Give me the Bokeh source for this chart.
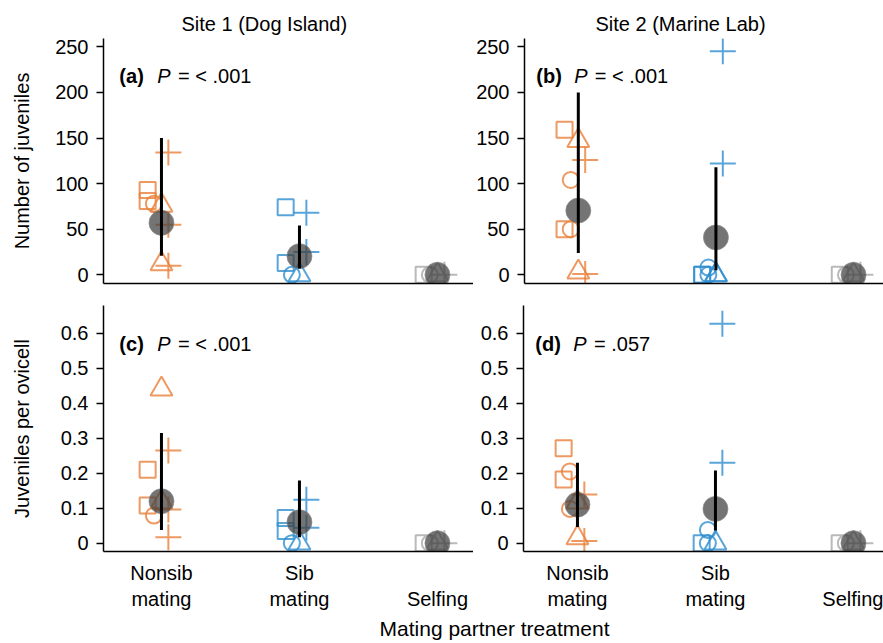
from bokeh.plotting import figure
from bokeh.layouts import column, row
from bokeh.models import FixedTicker, Label, Range1d, NumeralTickFormatter
from bokeh.embed import file_html
from bokeh.resources import INLINE

FONT = "Liberation Sans"

# ---------------- data ----------------
groups = ["Nonsib", "Sib", "Selfing"]
x_tick_labels = ["Nonsib\nmating", "Sib\nmating", "\nSelfing"]
shapes = ["square", "circle", "triangle", "cross"]
site_titles = ["Site 1 (Dog Island)", "Site 2 (Marine Lab)"]
y_labels = ["Number of juveniles", "Juveniles per ovicell"]
x_label = "Mating partner treatment"
panel_tags = ["(a)", "(b)", "(c)", "(d)"]
p_values = ["= < .001", "= < .001", "= < .001", "= .057"]
juv_ticks = [0, 50, 100, 150, 200, 250]
ovi_ticks = [0, 0.1, 0.2, 0.3, 0.4, 0.5, 0.6]

# (a) Site 1, number of juveniles
a_nonsib = {"square": [93, 81], "circle": [78], "triangle": [76, 12], "cross": [134, 55, 10]}
a_sib = {"square": [74, 13], "circle": [0], "triangle": [0], "cross": [68, 25]}
a_self = {"square": [0], "circle": [0], "triangle": [0], "cross": [0]}
a_mean = [57, 20.5, 0]
a_lo = [21, 7]
a_hi = [150, 54]

# (b) Site 2, number of juveniles
b_nonsib = {"square": [159, 50], "circle": [104, 50], "triangle": [147, 3], "cross": [126, 1]}
b_sib = {"square": [0, 0], "circle": [8, 0], "triangle": [0, 0], "cross": [245, 122]}
b_self = {"square": [0], "circle": [0], "triangle": [0], "cross": [0]}
b_mean = [70.5, 41, 0]
b_lo = [24, 5]
b_hi = [200, 118]

# (c) Site 1, juveniles per ovicell
c_nonsib = {"square": [0.21, 0.108], "circle": [0.079], "triangle": [0.44, 0.117], "cross": [0.265, 0.096, 0.017]}
c_sib = {"square": [0.072, 0.035], "circle": [0], "triangle": [0], "cross": [0.124, 0.044]}
c_self = {"square": [0], "circle": [0], "triangle": [0], "cross": [0]}
c_mean = [0.12, 0.06, 0]
c_lo = [0.038, 0.017]
c_hi = [0.315, 0.179]

# (d) Site 2, juveniles per ovicell
d_nonsib = {"square": [0.271, 0.182], "circle": [0.205, 0.098], "triangle": [0.117, 0.015], "cross": [0.139, 0.006]}
d_sib = {"square": [0], "circle": [0.038, 0], "triangle": [0], "cross": [0.627, 0.23]}
d_self = {"square": [0], "circle": [0], "triangle": [0], "cross": [0]}
d_mean = [0.11, 0.098, 0]
d_lo = [0.046, 0.036]
d_hi = [0.23, 0.208]

# ---------------- style ----------------
COLORS = {"Nonsib": "#E8803A", "Sib": "#2F8ECF", "Selfing": "#A8A8A8"}
OFFSETS = {"square": -0.10, "circle": -0.055, "triangle": 0.0, "cross": 0.05}
SIZES = {"square": 16, "circle": 16, "triangle": 22, "cross": 26}


def make_panel(data, means, lo, hi, xr, yr, ticks, width, height, border_left,
               border_top, border_bottom, idx, ylabel=None, ylabel_standoff=19,
               title=None, title_offset=0, show_x_labels=False, tag_y=0.0,
               frac_fmt=False):
    p = figure(width=width, height=height, x_range=Range1d(*xr), y_range=Range1d(*yr),
               output_backend="svg", toolbar_location=None,
               min_border_left=border_left, min_border_right=0,
               min_border_top=border_top, min_border_bottom=border_bottom)
    p.outline_line_color = None
    p.grid.visible = False
    p.background_fill_color = None
    p.border_fill_color = None

    for gi, (gname, gdata) in enumerate(zip(groups, data)):
        for shape in shapes:
            vals = gdata.get(shape, [])
            xs = [gi + 1 + OFFSETS[shape]] * len(vals)
            p.scatter(xs, vals, marker=shape, size=SIZES[shape], fill_color=None,
                      line_color=COLORS[gname], line_width=2, line_alpha=0.8)
    p.scatter([1, 2, 3], means, marker="circle", size=25, fill_color="#3F3F3F",
              fill_alpha=0.72, line_color="#8C8C8C", line_alpha=0.7, line_width=1)
    p.segment(x0=[1, 2], y0=lo, x1=[1, 2], y1=hi, line_width=3, line_color="black")

    # y axis
    ya = p.yaxis[0]
    ya.ticker = FixedTicker(ticks=ticks)
    if frac_fmt:
        ya.formatter = NumeralTickFormatter(format="0.[0]")
    ya.minor_tick_line_color = None
    ya.major_tick_out = 7
    ya.major_tick_in = 0
    ya.major_tick_line_width = 1.5
    ya.major_tick_line_color = "black"
    ya.axis_line_width = 1.5
    ya.axis_line_color = "black"
    ya.major_label_standoff = 8
    ya.major_label_text_font = FONT
    ya.major_label_text_font_size = "20px"
    ya.major_label_text_color = "black"
    if ylabel:
        ya.axis_label = ylabel
        ya.axis_label_text_font = FONT
        ya.axis_label_text_font_style = "normal"
        ya.axis_label_text_font_size = "20px"
        ya.axis_label_text_color = "black"
        ya.axis_label_standoff = ylabel_standoff

    # x axis
    xa = p.xaxis[0]
    xa.minor_tick_line_color = None
    xa.major_tick_line_color = None
    xa.major_tick_out = 0
    xa.major_tick_in = 0
    xa.axis_line_width = 1.5
    xa.axis_line_color = "black"
    if show_x_labels:
        xa.ticker = FixedTicker(ticks=[1, 2, 3])
        xa.major_label_overrides = {i + 1: lab for i, lab in enumerate(x_tick_labels)}
        xa.major_label_text_font = FONT
        xa.major_label_text_font_size = "20px"
        xa.major_label_text_color = "black"
        xa.major_label_standoff = 10
    else:
        xa.ticker = FixedTicker(ticks=[])
        xa.major_label_standoff = 0

    if title:
        p.title.text = title
        p.title.align = "left"
        p.title.offset = title_offset
        p.title.text_font = FONT
        p.title.text_font_style = "normal"
        p.title.text_font_size = "20px"
        p.title.text_color = "black"
        p.title.standoff = 8

    # panel tag and P value
    p.add_layout(Label(x=0.695, y=tag_y, text=panel_tags[idx], text_font=FONT, text_color="black",
                       text_font_size="20px", text_font_style="bold", text_baseline="middle"))
    p.add_layout(Label(x=0.97, y=tag_y, text="P", text_font=FONT, text_color="black",
                       text_font_size="20px", text_font_style="italic", text_baseline="middle"))
    p.add_layout(Label(x=1.12, y=tag_y, text=p_values[idx], text_font=FONT, text_color="black",
                       text_font_size="20px", text_baseline="middle"))
    return p


XR_L = (0.58, 0.58 + 370 / 138)
XR_R = (0.609, 0.609 + 360 / 138)
YR_TOP = (-9.5, 259.1)
YR_BOT = (-0.0237, 0.679)

pa = make_panel([a_nonsib, a_sib, a_self], a_mean, a_lo, a_hi, XR_L, YR_TOP, juv_ticks,
                473, 290, 103, 38, 7, 0, ylabel=y_labels[0], ylabel_standoff=19,
                title=site_titles[0], title_offset=78, tag_y=218.5)
pb = make_panel([b_nonsib, b_sib, b_self], b_mean, b_lo, b_hi, XR_R, YR_TOP, juv_ticks,
                410, 290, 50, 38, 7, 1, title=site_titles[1], title_offset=71, tag_y=218.5)
pc = make_panel([c_nonsib, c_sib, c_self], c_mean, c_lo, c_hi, XR_L, YR_BOT, ovi_ticks,
                473, 323, 103, 15, 62, 2, ylabel=y_labels[1], ylabel_standoff=25,
                show_x_labels=True, tag_y=0.568, frac_fmt=True)
pd_ = make_panel([d_nonsib, d_sib, d_self], d_mean, d_lo, d_hi, XR_R, YR_BOT, ovi_ticks,
                 410, 323, 50, 15, 62, 3, show_x_labels=True, tag_y=0.568, frac_fmt=True)

# shared x-axis title
px = figure(width=883, height=30, x_range=Range1d(0, 883), y_range=Range1d(0, 1),
            output_backend="svg", toolbar_location=None,
            min_border_left=0, min_border_right=0, min_border_top=0, min_border_bottom=0)
px.axis.visible = False
px.grid.visible = False
px.outline_line_color = None
px.add_layout(Label(x=494, y=0.5, text=x_label, text_font=FONT, text_color="black",
                    text_font_size="21px", text_align="center", text_baseline="middle"))

layout = column(row(pa, pb), row(pc, pd_), px)
open("out.html", "w").write(file_html(layout, INLINE))
